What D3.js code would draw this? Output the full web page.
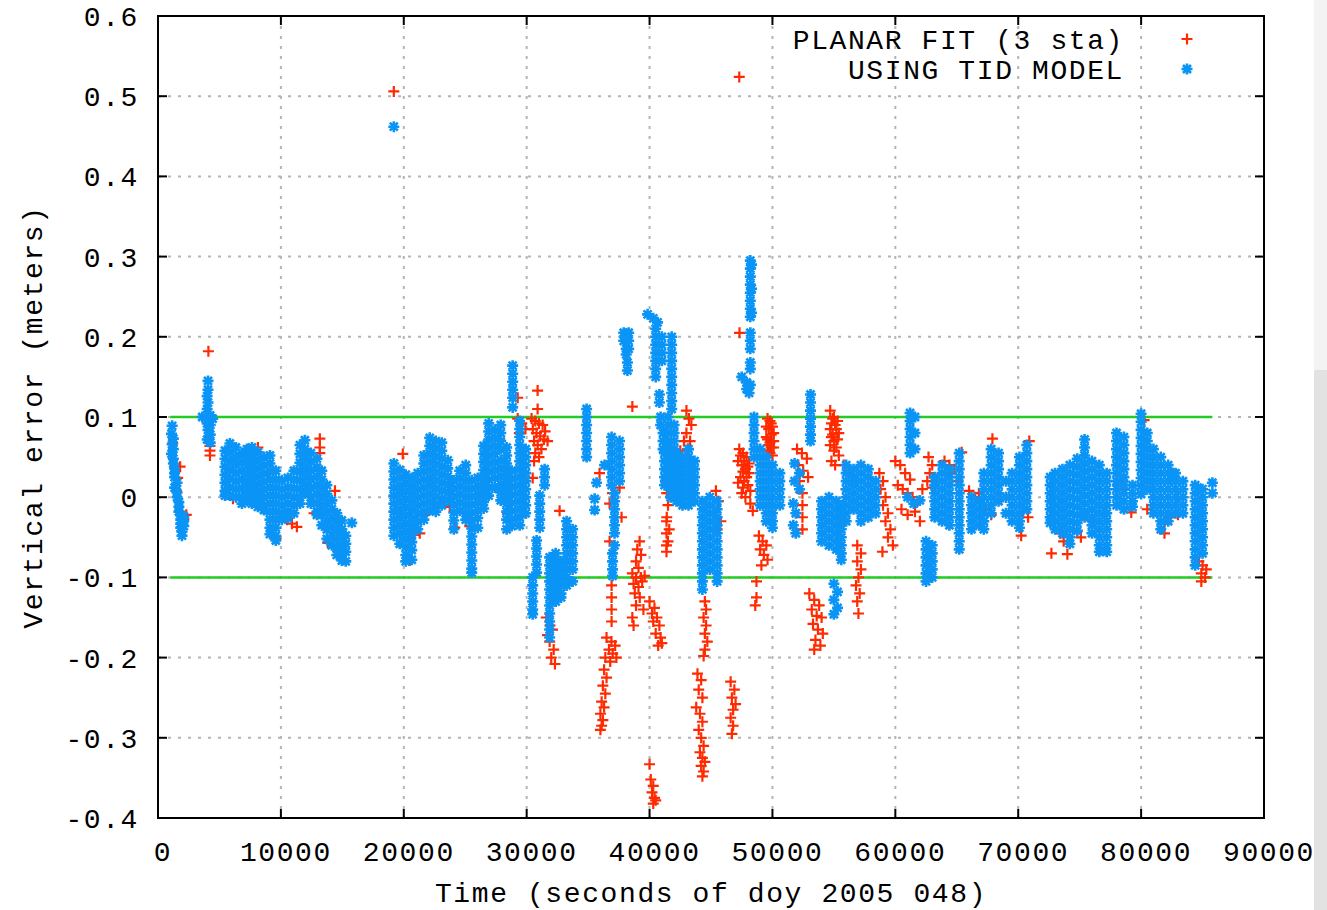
<!DOCTYPE html>
<html>
<head>
<meta charset="utf-8">
<script src="https://cdn.jsdelivr.net/npm/d3@7"></script>
<style>
  html, body { margin: 0; padding: 0; background: #ffffff; }
  svg { display: block; }
  text { font-family: "Liberation Mono", "DejaVu Sans Mono", monospace; font-size: 28px; letter-spacing: 1.6px; fill: #000; }
</style>
</head>
<body>
<svg id="chart" width="1327" height="910"></svg>
<script>
// Vertical error of the two solutions, seconds of day 2005-048.
// Each row: [time (s), value (m), value (m), ...] — several epochs sampled at about the same time.
const planarFit = [
  [1200, .067], [1400, .038], [1800, .038], [1600, .024], [2100, -.027], [2300, -.022], [1500, .008],
  [4100, .182], [4230, .064, .058, .052],
  [7150, .058], [8130, .062], [13170, .073, .062, .055], [9590, -.052], [10170, -.022], [10500, -.028],
  [10900, -.033], [11300, -.037], [13820, -.057], [5800, .02], [6100, -.002], [7700, .008], [7900, -.004],
  [14400, .008], [12700, -.02], [9000, .03],
  [19190, .506], [19920, .054], [20410, -.042], [20800, -.047], [21300, -.045], [20490, -.079],
  [22520, -.006], [23740, -.012], [24150, -.038], [25370, -.036], [27810, .071], [28450, -.02],
  [21000, -.03], [22110, .02], [21700, -.022], [19400, -.015], [19800, .01],
  [24000, .01], [26000, 0], [26800, .03],
  [29270, .124, .098], [30890, .133, .11], [29600, .092], [29900, .085], [29400, .08],
  [30400, .098], [30700, .095, .055], [31000, .092, .05], [31300, .09], [30500, .085], [30800, .08],
  [31100, .076], [31400, .072], [30600, .07, .045], [30900, .065], [31200, .06], [31500, .082], [31700, .07],
  [30490, .024], [32680, -.017], [32440, -.094],
  [31870, -.18], [32200, -.19], [32000, -.2], [32300, -.208], [31700, -.172], [32100, -.165],
  [31600, -.15], [31900, -.16],
  [35930, .03], [36990, .005], [36750, -.008, -.055], [37560, .012], [37720, -.025],
  [36910, -.11, -.125, -.14, -.155],
  [38600, .113],
  [39190, -.055], [39000, -.065], [39300, -.072, -.1], [38900, -.08, -.1, -.135], [39100, -.088, -.112],
  [38600, -.095, -.15], [39600, -.098], [38700, -.108, -.16], [39400, -.105], [38800, -.12],
  [39200, -.125], [39500, -.14],
  [36500, -.175, -.225], [36900, -.18], [37200, -.185], [36700, -.19], [37000, -.195], [36400, -.2, -.245],
  [36800, -.205], [37300, -.2],
  [36300, -.215, -.262], [36200, -.235, -.278], [36100, -.255, -.285], [36000, -.27, -.29],
  [40000, -.13, -.333], [40400, -.138], [40200, -.145, -.368], [40600, -.15], [40300, -.155, -.36, -.382],
  [40800, -.16], [40500, -.17, -.378], [40900, -.175], [41000, -.182], [40700, -.185],
  [40100, -.352], [40400, -.375],
  [41300, .02], [41400, .005, -.025], [41500, -.01, -.055], [41600, -.04],
  [41380, -.03, -.045, -.06, -.068],
  [43000, .108, .08], [43200, .098], [43400, .09], [43300, .07], [43100, .06], [42800, .07], [42500, .058],
  [44500, -.13, -.17, -.19], [44600, -.14, -.16], [44400, -.15, -.198], [44700, -.18],
  [43900, -.22], [44200, -.228, -.3, -.335], [44000, -.24, -.29], [44300, -.25, -.28, -.325, -.348],
  [43800, -.262], [44100, -.27, -.318], [44400, -.31, -.342], [44500, -.33],
  [46600, -.23, -.275], [46900, -.24], [46700, -.25, -.295], [47000, -.258], [46800, -.265, -.285],
  [45400, .008], [45600, -.005], [45300, -.018], [45800, -.03], [45500, -.04],
  [47300, .524, .06], [47320, .205],
  [47600, .055, .032, .012], [47900, .05, .025], [47200, .045, .018], [47500, .04, .005], [47800, .035, 0],
  [48100, .03, .042], [47400, .025, .052], [47700, .02, .045], [48000, .015, .038], [48200, -.008, .008],
  [48400, -.017],
  [49600, .098, .058, .072], [49900, .092, .078, .062], [49700, .085, .065], [50100, .08, .062, .07],
  [49500, .075, .088], [49800, .068, .095, .055], [50000, .052, .088],
  [48900, -.048], [49200, -.055], [49500, -.06], [49000, -.065], [49300, -.072], [49600, -.078],
  [49100, -.085], [48700, -.105, -.125], [48600, -.135],
  [52000, .06], [52400, .055], [52800, .048], [52100, .04], [52500, .033], [52900, .025], [52200, .02],
  [52440, .005, -.01, -.025, -.04],
  [54700, .108, .065, .085], [55000, .1, .058, .07], [54800, .092, .045, .075], [55200, .085, .062],
  [54900, .078, .098], [55300, .072, .095], [55400, .052, .08], [55100, .04, .09],
  [53000, -.12], [53400, -.128, -.19], [53800, -.135], [53200, -.14], [53600, -.148], [54000, -.15],
  [53300, -.158], [53700, -.165], [54100, -.17], [53500, -.178], [53900, -.185],
  [55800, .04], [56200, .03], [56600, .02], [56000, .01],
  [56900, -.06, -.08, -.13], [57200, -.07, -.09], [57000, -.1, -.145], [56800, -.11], [57100, -.12],
  [58950, -.068],
  [58700, .03], [59000, .02, -.01], [58800, .01], [59200, 0, -.03], [59400, -.02, -.05], [59600, -.04],
  [59800, -.06],
  [60000, .045], [60400, .04], [60800, .03], [61200, .022], [60200, .015], [60600, .01], [61000, .005, -.022],
  [61400, 0], [61800, -.005], [62200, .01], [62600, .02], [60500, -.015], [61600, -.018],
  [62700, .05], [63000, .04, .012], [62800, .03], [63200, .02],
  [64000, .045], [64400, .04], [64800, .035], [64200, .03], [65400, .056],
  [66000, .008], [66500, 0], [66800, .005], [67900, .073], [67300, -.015], [67800, -.022],
  [62000, -.03], [65000, .02], [69000, 0],
  [70900, .07], [70240, -.048], [70400, -.018], [70800, -.025], [72700, -.07],
  [74000, -.071], [73400, -.045], [73700, -.055], [74800, -.042], [75100, -.05],
  [74500, -.01], [76000, -.03], [77000, -.02],
  [78300, .02], [78600, .01], [78100, .015], [79200, -.019], [80240, .096], [80500, -.015],
  [81900, -.033, -.045], [82400, -.025], [83000, -.022, 0], [81000, .01],
  [84700, -.08], [85000, -.085], [85300, -.09], [84900, -.095, -.105], [85200, -.1]
];

const tidModel = [
  [1150, .089, .066], [1100, .079, .054], [1250, .073, .06, .048, .042], [1350, .036, .03, .025, .012],
  [1550, .018, .006, 0], [1700, -.006, -.012, -.018], [1850, -.022, -.028, -.033, -.038],
  [1950, -.043, -.048], [2100, -.036, -.024, -.03],
  [4070, .145, .134, .118, .084], [4000, .126, .11, .092, .072], [3600, .1], [4450, .098],
  [4250, .102, .09, .078, .068],
  [5450, .058, .048, .038, .028, .018, .008, .002],
  [5850, .067, .056, .045, .034, .023, .012, .002],
  [6340, .062, .05, .04, .03, .02, .01, 0],
  [6830, .055, .044, .033, .022, .011, 0, -.008],
  [7240, .06, .05, .04, .03, .02, .01, 0, -.004],
  [7640, .062, .052, .042, .032, .022, .012, .002, -.008],
  [8130, .056, .046, .036, .026, .016, .006, -.004, -.012],
  [8620, .05, .04, .03, .02, .01, 0, -.01, -.016],
  [9110, .052, .042, .032, .022, .012, .002, -.008, -.018, -.028, -.038, -.046],
  [9590, .033, .022, .012, .002, -.008, -.018, -.028, -.038, -.048, -.054],
  [10080, .021, .01, 0, -.01, -.02, -.028],
  [10570, .024, .012, .002, -.008, -.018, -.026],
  [11060, .033, .022, .011, 0, -.01, -.02],
  [11550, .065, .054, .043, .032, .021, .01, 0, -.008],
  [11950, .071, .06, .049, .038, .027, .016, .005],
  [12440, .055, .044, .033, .022, .011, 0, -.008],
  [12930, .048, .037, .026, .015, .004, -.007, -.018, -.022],
  [13330, .033, .022, .011, 0, -.011, -.022, -.035],
  [13740, .015, .004, -.007, -.018, -.029, -.04, -.052],
  [14150, -.004, -.015, -.026, -.037, -.048, -.06],
  [14550, -.02, -.031, -.042, -.053, -.064, -.072],
  [14960, -.029, -.04, -.051, -.062, -.072, -.079],
  [15280, -.048, -.058, -.068, -.08],
  [15770, -.032],
  [19190, .462],
  [19190, .042, .032, .022, .012, .002, -.008, -.018, -.028, -.038, -.048],
  [19670, .034, .024, .014, .004, -.006, -.016, -.026, -.036, -.046, -.058],
  [20160, .028, .018, .008, -.002, -.012, -.022, -.032, -.042, -.052, -.062, -.072, -.08],
  [20650, .024, .014, .004, -.006, -.016, -.026, -.036, -.046, -.056, -.066, -.078],
  [21140, .03, .02, .01, 0, -.01, -.02, -.03, -.04],
  [21630, .052, .042, .032, .022, .012, .002, -.008, -.018, -.028],
  [22110, .074, .064, .054, .044, .034, .024, .014, .004, -.006, -.016],
  [22600, .07, .06, .05, .04, .03, .02, .01, 0, -.01, -.018],
  [23090, .068, .058, .048, .038, .028, .018, .008, -.002, -.01],
  [23580, .046, .036, .026, .016, .006, -.004],
  [24070, .021, .011, .001, -.009, -.019, -.029, -.04],
  [24550, .033, .023, .013, .003, -.007, -.017],
  [25040, .04, .03, .02, .01, 0, -.01, -.02, -.028],
  [25530, .021, .011, .001, -.009, -.019, -.029, -.039, -.049, -.059, -.069, -.079, -.089, -.094],
  [26020, .024, .014, .004, -.006, -.016, -.026, -.038],
  [26500, .064, .054, .044, .034, .024, .014, .004, -.006, -.014],
  [26910, .092, .082, .072, .062, .052, .042, .032, .022, .012, .002],
  [27400, .084, .074, .064, .054, .044, .034, .024, .012],
  [27890, .09, .08, .07, .06, .046, .036, .026, .016, .006, -.004],
  [28370, .062, .052, .042, .032, .022, .012, .002, -.008, -.018, -.028, -.04],
  [28780, .033, .023, .013, .003, -.007, -.017, -.027, -.036],
  [28860, .164, .154, .144, .134, .124, .112],
  [29430, .095, .085, .075, .065, .055, .045, .035, .025, .015, .005, -.005, -.015, -.025, -.035],
  [29920, .06, .05, .04, .03, .02, .01, 0, -.01, -.02],
  [31460, .035, .025, .015],
  [31060, .002, -.008, -.018, -.028, -.038],
  [30810, -.054, -.064, -.074, -.084, -.094],
  [30490, -.1, -.11, -.12, -.13, -.14, -.146],
  [31870, -.075, -.085, -.095, -.105, -.115, -.125, -.135, -.145, -.155, -.165, -.175],
  [32360, -.07, -.08, -.09, -.1, -.11, -.12, -.13],
  [32800, -.08, -.09, -.1, -.11, -.12, -.125],
  [33250, -.03, -.04, -.05, -.06, -.07, -.08, -.09, -.1, -.11],
  [33740, -.04, -.05, -.06, -.07, -.08, -.09, -.105],
  [34880, .11, .1, .09, .08, .07, .06, .05],
  [35690, .018], [35530, -.002, -.016], [36340, .04],
  [36910, .075, .065, .055, .045, .035, .025, .015],
  [37560, .07, .06, .05, .04, .03, .02],
  [37150, .005, -.005, -.015, -.025, -.035, -.045, -.06],
  [36990, -.07, -.08, -.09, -.098],
  [37900, .205, .195], [38300, .205, .195, .185], [38100, .2, .185, .178], [38200, .168, .158],
  [39840, .228], [40300, .223], [40650, .218],
  [40500, .21, .2, .19, .18, .17, .16, .15],
  [41000, .2, .19, .18, .17],
  [41800, .2, .19, .18, .17, .16, .15, .14, .13, .12, .11],
  [40800, .128, .118],
  [40900, .1, .09], [41100, .08, .07, .06],
  [41500, .1, .09, .08, .07, .06],
  [42000, .09, .08, .07, .06, .05],
  [41220, .055, .045, .035, .025, .015],
  [41710, .06, .05, .04, .03, .02, .01, 0],
  [42190, .055, .045, .035, .025, .015, .005, -.005],
  [42680, .05, .04, .03, .02, .01, 0, -.01],
  [43170, .06, .05, .04, .03, .02, .01, 0, -.01],
  [43660, .045, .035, .025, .015, .005, -.005],
  [44300, -.005, -.015, -.025, -.035, -.045, -.055, -.065, -.075, -.085, -.095, -.105, -.115],
  [44900, 0, -.01, -.02, -.03, -.04, -.05, -.06, -.07, -.08, -.09],
  [45500, -.005, -.015, -.025, -.035, -.045, -.055, -.065, -.075, -.085, -.095, -.105],
  [48200, .295, .285, .275, .265, .255, .245, .235, .225, .205, .195, .185, .168, .16, .14],
  [48300, .29, .26, .23],
  [47500, .15], [47900, .143, .135], [48100, .13],
  [48500, .1, .09, .08, .07, .06, .05],
  [49000, .06, .05, .04, .03, .02, .01, 0, -.01],
  [49500, .05, .04, .03, .02, .01, 0, -.01, -.02, -.03],
  [50000, .04, .03, .02, .01, 0, -.01, -.02, -.03, -.038],
  [50600, .03, .02, .01, 0, -.01],
  [51800, .042, .02], [52200, .03, .01], [51700, -.008, -.035], [51900, -.02, -.045],
  [53100, .128, .118, .108, .098, .088, .078, .07],
  [54000, -.005, -.015, -.025, -.035, -.045, -.055],
  [54600, 0, -.01, -.02, -.03, -.04, -.05, -.06],
  [55200, -.005, -.015, -.025, -.035, -.045, -.055, -.065],
  [55600, -.01, -.02, -.03, -.04, -.05, -.06, -.07, -.078],
  [55000, -.108, -.128, -.146], [55300, -.118, -.138],
  [56000, .04, .03, .02, .01, 0, -.01, -.02, -.03],
  [56600, .035, .025, .015, .005, -.005, -.015],
  [57200, .04, .03, .02, .01, 0, -.01, -.02, -.03],
  [57800, .035, .025, .015, .005, -.005, -.015, -.025],
  [58400, .02, .01, 0, -.01, -.02],
  [61200, .105, .095, .085, .075, .065, .055],
  [61600, .1, .08, .06],
  [61000, 0], [61500, -.008], [62000, -.004],
  [62500, -.055, -.065, -.075, -.085, -.095, -.105],
  [63000, -.06, -.07, -.08, -.09, -.1],
  [63200, .025, .015, .005, -.005, -.015, -.025],
  [63800, .04, .03, .02, .01, 0, -.01, -.02, -.03],
  [64400, .035, .025, .015, .005, -.005, -.015, -.025, -.035],
  [65200, .055, .045, .035, .025, .015, .005, -.005, -.015, -.025, -.035, -.045, -.055, -.065],
  [66200, 0, -.01, -.02, -.03, -.04],
  [66800, -.005, -.015, -.025, -.035],
  [67200, .03, .02, .01, 0, -.01, -.02, -.03, -.04],
  [67800, .06, .05, .04, .03, .02, .01, 0, -.01, -.02],
  [68400, .055, .045, .035, .025, .015, .005, -.005],
  [69000, .02, 0, -.02],
  [69500, .03, .02, .01, 0, -.01, -.02, -.03],
  [70100, .05, .04, .03, .02, .01, 0, -.01, -.02, -.03, -.038],
  [70700, .065, .055, .045, .035, .025, .015, .005, -.005, -.015],
  [72600, .025, .015, .005, -.005, -.015, -.025, -.032],
  [73000, .03, .02, .01, 0, -.01, -.02, -.03, -.04],
  [73600, .035, .025, .015, .005, -.005, -.015, -.025, -.035, -.045],
  [74200, .04, .03, .02, .01, 0, -.01, -.02, -.03, -.04, -.05, -.058],
  [74800, .048, .038, .028, .018, .008, -.002, -.012, -.022, -.032, -.042],
  [75400, .072, .062, .052, .042, .032, .022, .012, .002, -.008, -.018, -.025],
  [76000, .045, .035, .025, .015, .005, -.005, -.015, -.025, -.035, -.045],
  [76600, .04, .03, .02, .01, 0, -.01, -.02, -.03, -.04, -.05, -.06, -.068],
  [77200, .03, .02, .01, 0, -.01, -.02, -.03, -.04, -.05, -.06, -.068],
  [78000, .08, .07, .06, .05, .04, .03, .02, .01, 0, -.01],
  [78600, .075, .065, .055, .045, .035, .025, .015, .005, -.005, -.015],
  [79300, .015, .005, -.005, -.012],
  [80000, .104, .094, .084, .074, .064, .054, .044, .034, .024, .014, .004],
  [80500, .08, .07, .06, .05, .04, .03, .02, .01],
  [81000, .06, .05, .04, .03, .02, .01, 0, -.01, -.02],
  [81600, .05, .04, .03, .02, .01, 0, -.01, -.02, -.03, -.04],
  [82200, .04, .03, .02, .01, 0, -.01, -.02, -.03],
  [82600, .03, .026],
  [82800, .03, .02, .01, 0, -.01, -.02],
  [83400, .02, .01, 0, -.01, -.02],
  [84400, .015, .005, -.005, -.015, -.025, -.035, -.045, -.055, -.065, -.075, -.085],
  [85000, .01, 0, -.01, -.02, -.03, -.04, -.05, -.06, -.07],
  [84600, .012], [85800, .018, .005]
];

// ±0.1 m reference band, and the time span it covers
const bandLevels = [0.1, -0.1];
const bandSpan = [1000, 85800];

const xTicks = [0, 10000, 20000, 30000, 40000, 50000, 60000, 70000, 80000, 90000];
const yTicks = [-0.4, -0.3, -0.2, -0.1, 0, 0.1, 0.2, 0.3, 0.4, 0.5, 0.6];
const seriesNames = ["PLANAR FIT (3 sta)", "USING TID MODEL"];
const xTitle = "Time (seconds of doy 2005 048)";
const yTitle = "Vertical error (meters)";

const RED = "#ff2a00", BLUE = "#0a94f6", GREEN = "#22cc22", GRID = "#b4b4b4";

const svg = d3.select("#chart");
const L = 158, R = 1264, T = 16, B = 818;

const x = d3.scaleLinear().domain([0, 90000]).range([L, R]);
const y = d3.scaleLinear().domain([-0.4, 0.6]).range([B, T]);

const flatten = rows => rows.flatMap(([t, ...vs]) => vs.map(v => ({ t, v })));
const redPts = flatten(planarFit);
const bluePts = flatten(tidModel);

// light strip on the right edge
svg.append("rect").attr("x", 1314).attr("y", 0).attr("width", 13).attr("height", 370).attr("fill", "#f3f3f3");
svg.append("rect").attr("x", 1314).attr("y", 370).attr("width", 13).attr("height", 540).attr("fill", "#e2e2e2");

// grid
const grid = svg.append("g").attr("stroke", GRID).attr("stroke-width", 2).attr("stroke-dasharray", "3,7");
grid.selectAll("line.gx").data(xTicks.slice(1, -1)).join("line")
  .attr("x1", d => x(d)).attr("x2", d => x(d)).attr("y1", T).attr("y2", B);
grid.selectAll("line.gy").data(yTicks.slice(1, -1)).join("line")
  .attr("x1", L).attr("x2", R).attr("y1", d => y(d)).attr("y2", d => y(d));

// reference band
svg.append("g").selectAll("line").data(bandLevels).join("line")
  .attr("x1", x(bandSpan[0])).attr("x2", x(bandSpan[1]))
  .attr("y1", d => y(d)).attr("y2", d => y(d))
  .attr("stroke", GREEN).attr("stroke-width", 2.5);

const plusPath = "M-5.5,0H5.5M0,-5.5V5.5";
const starPath = "M-5.5,0H5.5M0,-5.5V5.5M-4,-4L4,4M-4,4L4,-4";

svg.append("g").selectAll("path").data(redPts).join("path")
  .attr("transform", d => `translate(${x(d.t)},${y(d.v)})`)
  .attr("d", plusPath).attr("stroke", RED).attr("stroke-width", 2.2).attr("fill", "none");

svg.append("g").selectAll("path").data(bluePts).join("path")
  .attr("transform", d => `translate(${x(d.t)},${y(d.v)})`)
  .attr("d", starPath).attr("stroke", BLUE).attr("stroke-width", 2.6).attr("fill", "none");

// frame and tics
svg.append("rect").attr("x", L).attr("y", T).attr("width", R - L).attr("height", B - T)
  .attr("fill", "none").attr("stroke", "#000").attr("stroke-width", 2);
const tics = svg.append("g").attr("stroke", "#000").attr("stroke-width", 2);
xTicks.forEach(d => {
  tics.append("line").attr("x1", x(d)).attr("x2", x(d)).attr("y1", B).attr("y2", B - 9);
  tics.append("line").attr("x1", x(d)).attr("x2", x(d)).attr("y1", T).attr("y2", T + 9);
});
yTicks.forEach(d => {
  tics.append("line").attr("x1", L).attr("x2", L + 9).attr("y1", y(d)).attr("y2", y(d));
  tics.append("line").attr("x1", R).attr("x2", R - 9).attr("y1", y(d)).attr("y2", y(d));
});

// tick labels (gnuplot-style: "0" without decimals)
const yFmt = d => (Math.abs(d) < 1e-9 ? "0" : d3.format(".1f")(d).replace("\u2212", "-"));
svg.append("g").selectAll("text").data(yTicks).join("text")
  .attr("x", 139).attr("y", d => y(d) + 10).attr("text-anchor", "end")
  .text(yFmt);
svg.append("g").selectAll("text").data(xTicks).join("text")
  .attr("x", d => x(d) + 5).attr("y", 861).attr("text-anchor", "middle")
  .text(d => String(d));

// axis titles
svg.append("text").attr("x", (L + R) / 2).attr("y", 902).attr("text-anchor", "middle").text(xTitle);
svg.append("text").attr("transform", `translate(42,${(T + B) / 2}) rotate(-90)`)
  .attr("text-anchor", "middle").text(yTitle);

// legend
const legend = svg.append("g");
legend.append("text").attr("x", 1124).attr("y", 49).attr("text-anchor", "end").text(seriesNames[0]);
legend.append("text").attr("x", 1124).attr("y", 79).attr("text-anchor", "end").text(seriesNames[1]);
legend.append("path").attr("transform", "translate(1187,39)").attr("d", plusPath)
  .attr("stroke", RED).attr("stroke-width", 2.2).attr("fill", "none");
legend.append("path").attr("transform", "translate(1187,69)").attr("d", starPath)
  .attr("stroke", BLUE).attr("stroke-width", 2.6).attr("fill", "none");
</script>
</body>
</html>
